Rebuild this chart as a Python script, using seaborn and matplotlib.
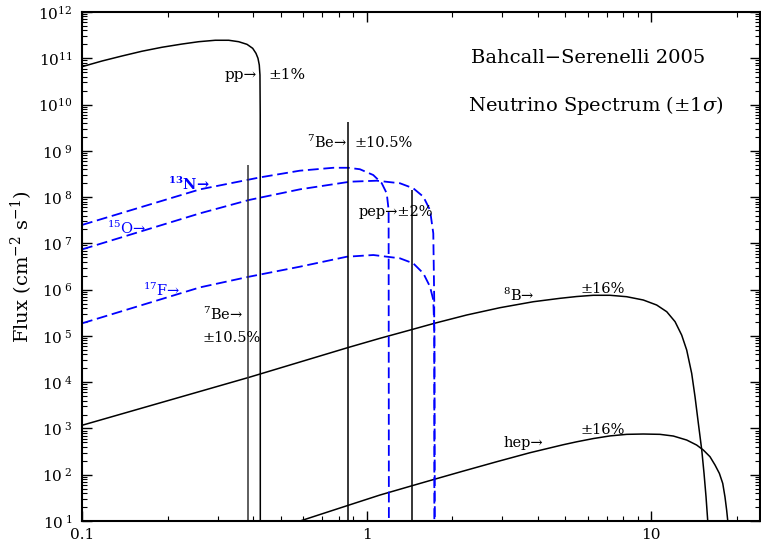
import math

import matplotlib
matplotlib.use("Agg")
import matplotlib.pyplot as plt
from matplotlib.ticker import FixedLocator, FuncFormatter, LogLocator, NullFormatter
import pandas as pd
import seaborn as sns

# Continuum spectra: neutrino energy (MeV) and flux (cm^-2 s^-1 MeV^-1)
pp_energy = [0.1, 0.1176, 0.1382, 0.1625, 0.1911, 0.2246, 0.2571, 0.2941, 0.3279, 0.3554,
             0.3802, 0.3981, 0.4088, 0.4155, 0.4199, 0.4222, 0.4231, 0.4234]
pp_flux = [6.58e10, 8.73e10, 1.12e11, 1.42e11, 1.73e11, 2.03e11, 2.28e11, 2.45e11, 2.45e11,
           2.28e11, 2.0e11, 1.64e11, 1.28e11, 9.98e10, 7.16e10, 4.35e10, 5.9e9, 1.0]

n13_energy = [0.1, 0.260, 0.423, 0.583, 0.764, 0.863, 0.948, 1.056, 1.131, 1.178, 1.196, 1.199]
n13_flux = [2.5e7, 1.47e8, 2.67e8, 3.72e8, 4.3e8, 4.3e8, 4.0e8, 3.0e8, 2.0e8, 1.2e8, 5.3e7, 1.0]

o15_energy = [0.1, 0.260, 0.386, 0.583, 0.875, 1.086, 1.311, 1.46, 1.584, 1.672, 1.717,
              1.730, 1.732]
o15_flux = [7.4e6, 4.46e7, 8.65e7, 1.47e8, 2.15e8, 2.26e8, 1.99e8, 1.55e8, 1.02e8, 5.26e7,
            1.65e7, 6.0e5, 1.0]

f17_energy = [0.1, 0.260, 0.386, 0.583, 0.852, 1.057, 1.311, 1.46, 1.584, 1.672, 1.717,
              1.733, 1.740]
f17_flux = [1.87e5, 1.12e6, 1.9e6, 3.13e6, 5.14e6, 5.6e6, 4.75e6, 3.7e6, 2.25e6, 1.16e6,
            6.0e5, 1.15e5, 1.0]

b8_energy = [0.1, 0.386, 0.866, 1.115, 1.449, 1.731, 2.25, 2.945, 3.858, 4.787, 5.482, 6.27,
             7.177, 8.215, 9.395, 10.47, 11.36, 12.15, 12.82, 13.35, 13.90, 14.28, 14.67,
             15.08, 15.36, 15.61, 15.82, 16.0]
b8_flux = [1.17e3, 1.27e4, 5.66e4, 8.87e4, 1.38e5, 1.87e5, 2.83e5, 4.07e5, 5.48e5, 6.49e5,
           7.1e5, 7.55e5, 7.55e5, 7.03e5, 5.97e5, 4.65e5, 3.33e5, 2.03e5, 1.04e5, 4.95e4,
           1.55e4, 4.85e3, 1.29e3, 342, 107, 33.4, 10.5, 1]

hep_energy = [0.584, 0.866, 1.115, 1.445, 1.731, 2.189, 2.869, 3.755, 4.916, 5.482, 6.27,
              7.177, 8.215, 9.395, 10.75, 11.98, 13.35, 14.47, 15.27, 16.12, 16.79, 17.39,
              17.87, 18.2, 18.45, 18.6, 18.77]
hep_flux = [10, 22, 36.4, 57.8, 79.6, 120, 191, 299, 445, 515, 605, 690, 746, 758, 746, 686,
            562, 438, 342, 245, 162, 107, 65, 33, 17, 10.5, 1]

# Monochromatic lines: 7Be (0.384), 7Be (0.862), pep (1.442), flux in cm^-2 s^-1
line_energy = [0.384, 0.862, 1.442]
line_flux = [4.9e8, 4.3e9, 1.42e8]

x_ticks = [0.1, 1, 10]
x_tick_labels = ["0.1", "1", "10"]
y_decades = list(range(1, 13))

BLUE = "#0000ff"
ARROW = "\u2192"
PM = "\u00b1"

sns.set_theme(style="ticks")
plt.rcParams["font.family"] = ["DejaVu Serif"]
plt.rcParams["mathtext.fontset"] = "dejavuserif"
plt.rcParams["axes.linewidth"] = 1.5
for key in ("text.color", "axes.labelcolor", "xtick.color", "ytick.color", "axes.edgecolor"):
    plt.rcParams[key] = "black"

fig = plt.figure(figsize=(7.61, 5.42), dpi=100)
ax = fig.add_axes([82 / 761, 21 / 542, 678 / 761, 509 / 542])
ax.set_xscale("log")
ax.set_yscale("log")


def curve(energy, flux, **kw):
    df = pd.DataFrame({"energy": energy, "flux": flux})
    sns.lineplot(data=df, x="energy", y="flux", ax=ax, estimator=None, sort=False, **kw)


solid = dict(color="black", lw=1.1)
dashed = dict(color=BLUE, lw=1.3, linestyle=(0, (6, 2.6)))

curve(pp_energy, pp_flux, **solid)
curve(b8_energy, b8_flux, **solid)
curve(hep_energy, hep_flux, **solid)
curve(n13_energy, n13_flux, **dashed)
curve(o15_energy, o15_flux, **dashed)
curve(f17_energy, f17_flux, **dashed)

ax.vlines(line_energy, 1, line_flux, colors=["#333333", "black", "black"], lw=1.1)

ax.set_xlim(0.1, 10 ** (-1 + 678 / 284.5))
ax.set_ylim(10, 1e12)

ax.xaxis.set_major_locator(FixedLocator(x_ticks))
ax.xaxis.set_major_formatter(FuncFormatter(
    lambda v, p: x_tick_labels[x_ticks.index(v)] if v in x_ticks else ""))
ax.xaxis.set_minor_locator(LogLocator(base=10, subs=range(2, 10), numticks=20))
ax.xaxis.set_minor_formatter(NullFormatter())


def decade_label(v, p):
    d = int(round(math.log10(v)))
    if d < 10:
        return r"$10^{\;%d}$" % d
    return r"$10^{%d}$" % d


ax.yaxis.set_major_locator(FixedLocator([10.0 ** d for d in y_decades]))
ax.yaxis.set_major_formatter(FuncFormatter(decade_label))
ax.yaxis.set_minor_locator(LogLocator(base=10, subs=range(2, 10), numticks=20))
ax.yaxis.set_minor_formatter(NullFormatter())

ax.tick_params(which="both", direction="in", top=True, right=True, color="black")
ax.tick_params(which="major", length=7, width=1.0, labelsize=11, pad=5)
ax.tick_params(which="minor", length=3.5, width=0.8)
ax.tick_params(axis="y", which="major", pad=7)

ax.set_xlabel("")
ax.set_ylabel(r"Flux (cm$^{-2}$ s$^{-1}$)", fontsize=14)
ax.yaxis.set_label_coords(-0.069, 0.5)

# Headings
ax.text(0.746, 0.9096, "Bahcall\u2212Serenelli 2005", transform=ax.transAxes,
        ha="center", va="center", fontsize=14)
ax.text(0.758, 0.817, r"Neutrino Spectrum ($\pm1\sigma$)", transform=ax.transAxes,
        ha="center", va="center", fontsize=14)

# Source labels with flux uncertainties
fs = 10.5
ax.text(0.412, 4.35e10, "pp" + ARROW, ha="right", va="center", fontsize=fs + 0.5)
ax.text(0.4507, 4.35e10, PM + "1%", ha="left", va="center", fontsize=fs + 0.5)
ax.text(0.854, 1.5e9, "$^{7}$Be" + ARROW, ha="right", va="center", fontsize=fs)
ax.text(0.904, 1.5e9, PM + "10.5%", ha="left", va="center", fontsize=fs)
ax.text(0.941, 4.83e7, "pep" + ARROW + PM + "2%", ha="left", va="center", fontsize=fs)
ax.text(0.266, 2.97e5, "$^{7}$Be" + ARROW, ha="left", va="center", fontsize=fs)
ax.text(0.266, 9.0e4, PM + "10.5%", ha="left", va="center", fontsize=fs)
ax.text(3.02, 7.66e5, "$^{8}$B" + ARROW, ha="left", va="center", fontsize=fs)
ax.text(5.63, 1.03e6, PM + "16%", ha="left", va="center", fontsize=fs)
ax.text(3.02, 484, "hep" + ARROW, ha="left", va="center", fontsize=fs)
ax.text(5.63, 925, PM + "16%", ha="left", va="center", fontsize=fs)

ax.text(0.2006, 1.92e8, r"$^{\mathbf{13}}$N" + ARROW, ha="left", va="center",
        fontsize=fs, color=BLUE, fontweight="bold")
ax.text(0.1224, 2.15e7, "$^{15}$O" + ARROW, ha="left", va="center", fontsize=fs, color=BLUE)
ax.text(0.1638, 9.5e5, "$^{17}$F" + ARROW, ha="left", va="center", fontsize=fs, color=BLUE)

fig.savefig("out.png", dpi=100)
